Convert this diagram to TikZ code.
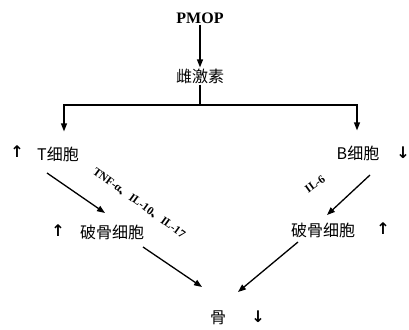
\documentclass[tikz,border=0pt]{standalone}
\usepackage{fontspec}
\setmainfont{Liberation Serif}
\newfontfamily\cjk{Noto Sans CJK SC}
\newfontfamily\sym{DejaVu Sans}
\usetikzlibrary{arrows.meta}
\begin{document}
\begin{tikzpicture}[x=1pt,y=-1pt,
  lbl/.style={inner sep=1pt,font=\cjk\fontsize{16}{16}\selectfont},
  arr/.style={inner sep=0pt,font=\sym\bfseries\fontsize{16}{16}\selectfont},
  conn/.style={line width=1.3pt,-{Triangle[length=8pt,width=6pt]}},
  plain/.style={line width=1.3pt},
  cyto/.style={inner sep=0pt,font=\bfseries\fontsize{11.5}{11.5}\selectfont}]
\useasboundingbox (0,0) rectangle (409,329);
\node[inner sep=1pt,font=\bfseries\fontsize{16}{16}\selectfont] (pmop) at (200,18) {PMOP};
\node[lbl] (est) at (200,76) {雌激素};
\node[lbl] (tcell) at (58,154) {T细胞};
\node[arr] (tup) at (17,152) {↑};
\node[lbl] (bcell) at (358,153) {B细胞};
\node[arr] (bdown) at (403,153) {↓};
\node[lbl] (oc1) at (112,232) {破骨细胞};
\node[arr] (oc1up) at (58,231) {↑};
\node[lbl] (oc2) at (323,230) {破骨细胞};
\node[arr] (oc2up) at (383,229) {↑};
\node[lbl] (bone) at (218,318) {骨};
\node[arr] (bonedown) at (258,317) {↓};
\coordinate (split) at (200,105);
\coordinate (lcorner) at (64,105);
\coordinate (rcorner) at (357,105);
\draw[conn] (pmop.south) -- (est.north);
\draw[plain] (est.south) -- (split);
\draw[conn] (split) -- (lcorner) -- ([shift={(6,-14)}]tcell.north);
\draw[conn] (split) -- (rcorner) -- ([shift={(-1,-14)}]bcell.north);
\draw[conn] ([shift={(-11,19)}]tcell.center) -- ([shift={(-7,-19)}]oc1.center);
\draw[conn] ([shift={(47,-55)}]oc2.center) -- ([shift={(4,-15)}]oc2.center);
\draw[conn] ([shift={(31,15)}]oc1.center) -- ([shift={(-16,-31)}]bone.center);
\draw[conn] ([shift={(-25,12)}]oc2.center) -- ([shift={(20,-26)}]bone.center);
\node[cyto,rotate=-36] (tnf) at (139,203) {TNF-α{\cjk 、}IL-10{\cjk 、}IL-17};
\node[cyto,rotate=36] (il6) at (315,184) {IL-6};
\end{tikzpicture}
\end{document}
